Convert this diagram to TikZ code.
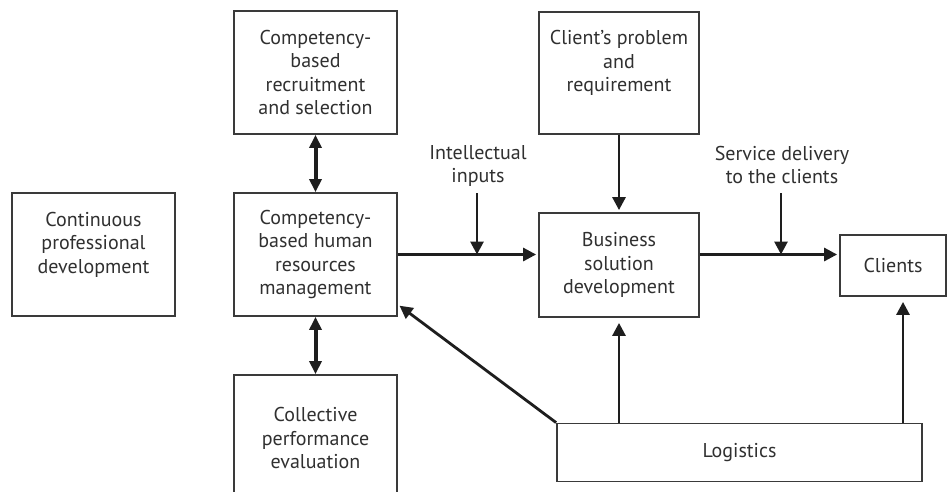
\documentclass[tikz,border=0pt]{standalone}
\usepackage{fontspec}
\setmainfont{PT Sans}
\usetikzlibrary{arrows.meta}
\definecolor{ln}{HTML}{3A3A3A}
\definecolor{ar}{HTML}{1E1E1E}
\definecolor{tx}{HTML}{303030}
\begin{document}
\begin{tikzpicture}[x=1pt,y=-1pt,
  box/.style={draw=ln,line width=1.8pt,rectangle,align=center,inner sep=0pt,text=tx,
    font=\fontsize{20}{23.5}\selectfont},
  lbl/.style={align=center,inner sep=0pt,text=tx,font=\fontsize{20}{23.5}\selectfont},
  arr/.style={draw=ar,line width=2.8pt,-{Triangle[length=13pt,width=13pt]},shorten >=2pt},
  dbl/.style={draw=ar,line width=4pt,{Triangle[length=13pt,width=12pt]}-{Triangle[length=13pt,width=12pt]}}]
\useasboundingbox (0,0) rectangle (952,491);
\fill[white] (0,0) rectangle (952,491);
\begin{scope}
\clip (0,0) rectangle (952,491);
\node[box,minimum width=163pt,minimum height=123pt] (rec) at (315.5,72.5) {Competency-\\based\\recruitment\\and selection};
\node[box,minimum width=163pt,minimum height=123pt] (cpd) at (93.5,254.5) {Continuous\\professional\\development\\\mbox{}};
\node[box,minimum width=163pt,minimum height=123pt] (hrm) at (315.5,254.5) {Competency-\\based human\\resources\\management};
\node[box,minimum width=163pt,minimum height=126pt] (col) at (315.5,438) {Collective\\performance\\evaluation};
\node[box,minimum width=160pt,minimum height=122pt] (cli) at (619,73) {Client’s problem\\and\\requirement\\\mbox{}};
\node[box,minimum width=160pt,minimum height=104pt] (bus) at (619,265) {Business\\solution\\development};
\node[box,minimum width=106pt,minimum height=61pt] (clt) at (893,265.5) {Clients};
\node[box,minimum width=365pt,minimum height=58pt] (log) at (739.5,452.5) {Logistics};
\end{scope}
\node[lbl] (intel) at (478,166) {Intellectual\\inputs};
\node[lbl] (serv) at (782,165) {Service delivery\\to the clients};
\coordinate (iA) at (477,193);
\coordinate (sA) at (781,193);
\draw[dbl] (rec.south) -- (hrm.north);
\draw[dbl] (hrm.south) -- (col.north);
\draw[arr] (hrm.east) -- (bus.west |- hrm.east);
\draw[arr] (bus.east |- hrm.east) -- (clt.west |- hrm.east);
\draw[arr,shorten >=0pt] (iA) -- (iA |- hrm.east);
\draw[arr,shorten >=0pt] (sA) -- (sA |- hrm.east);
\draw[arr] (cli.south) -- (bus.north);
\draw[arr,shorten >=5pt] (log.north -| bus.south) -- (bus.south);
\draw[arr,shorten >=5pt] (log.north -| 903,0) -- (903,0 |- clt.south);
\draw[arr] (log.north west) -- ([yshift=-50pt]hrm.east);
\end{tikzpicture}
\end{document}
